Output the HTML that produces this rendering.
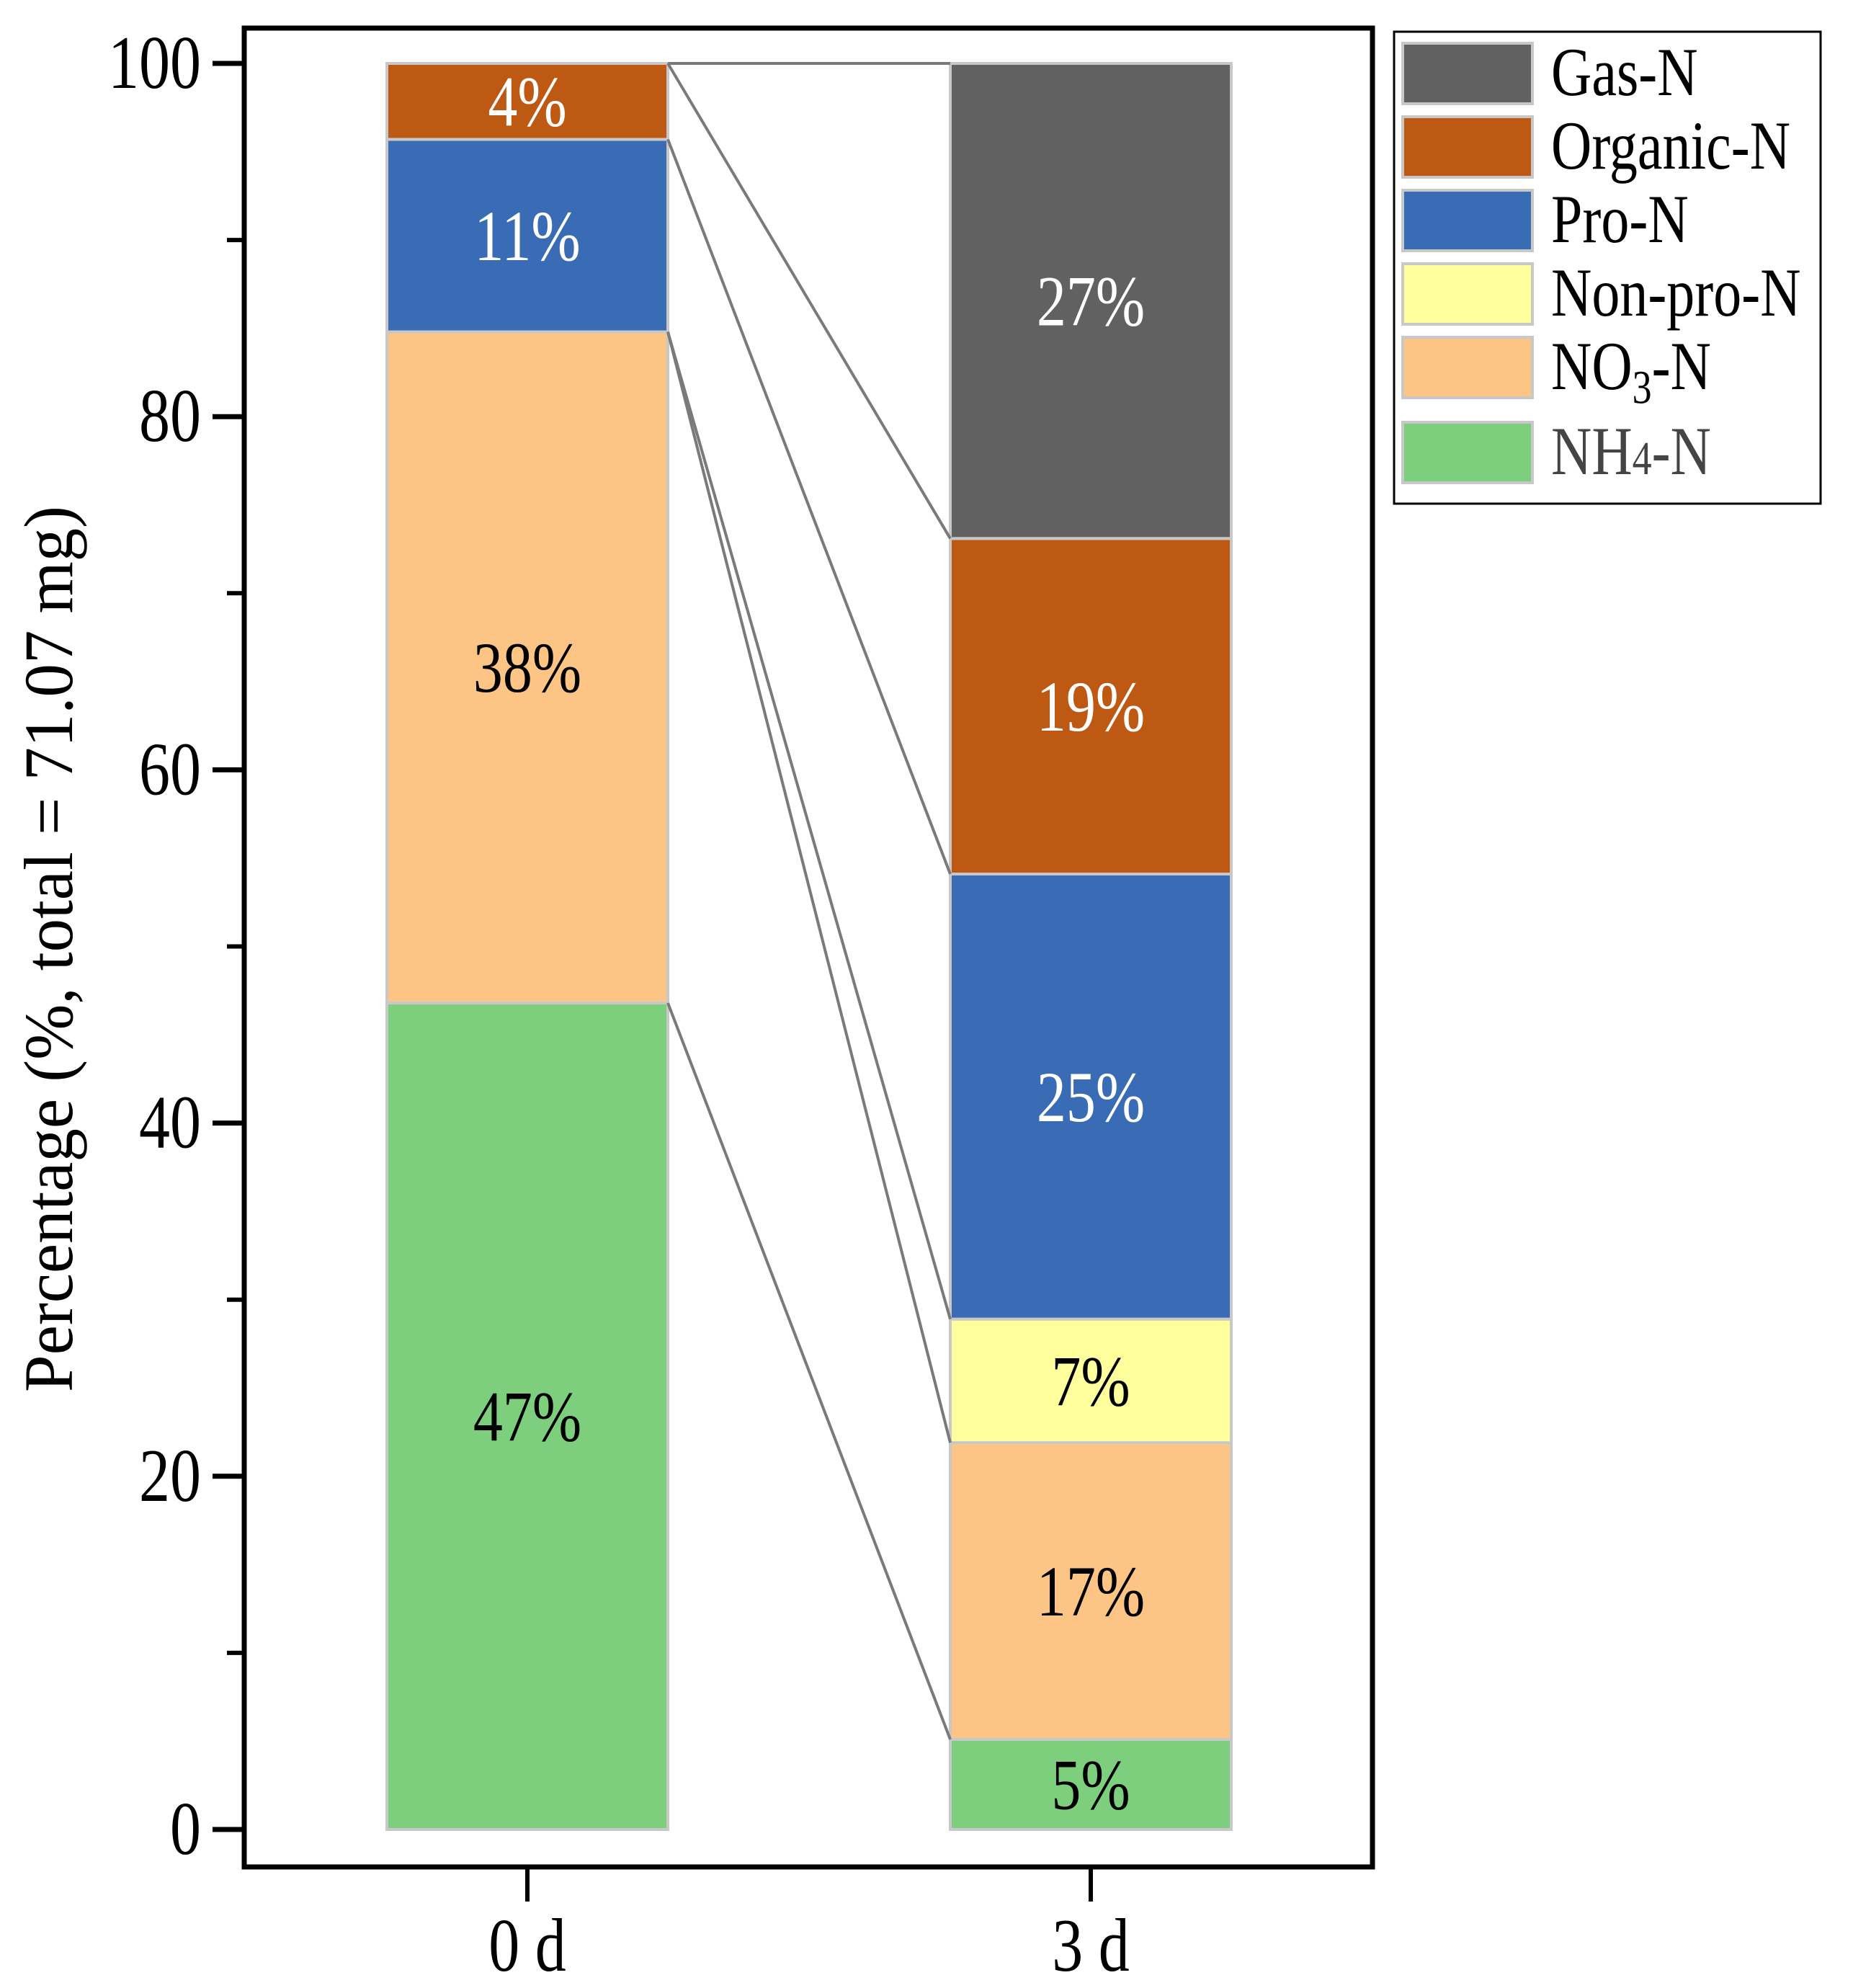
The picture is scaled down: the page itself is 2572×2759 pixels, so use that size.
<!DOCTYPE html>
<html><head><meta charset="utf-8"><style>
html,body{margin:0;padding:0;background:#fff;}
svg{display:block;font-family:"Liberation Serif",serif;}
</style></head><body>
<svg id="chart" width="2572" height="2759" viewBox="0 0 2572 2759" xmlns="http://www.w3.org/2000/svg">
<g id="plot"></g>
</svg>
<script>
const categories = ["0 d", "3 d"];
const seriesNames = ["NH4-N", "NO3-N", "Non-pro-N", "Pro-N", "Organic-N", "Gas-N"];
const seriesColors = ["#7dcf7d", "#fdc585", "#ffff9e", "#3a6bb5", "#bd5913", "#616161"];
const labelColors = ["#000", "#000", "#000", "#fff", "#fff", "#fff"];
const values0d = [46.8, 38.0, 0, 10.9, 4.3, 0];
const values3d = [5.1, 16.8, 7.0, 25.2, 19.0, 26.9];
const labels0d = ["47%", "38%", "", "11%", "4%", ""];
const labels3d = ["5%", "17%", "7%", "25%", "19%", "27%"];
const yTicks = [0, 20, 40, 60, 80, 100];
const yMinorTicks = [10, 30, 50, 70, 90];

const NS = "http://www.w3.org/2000/svg";
const g = document.getElementById("plot");
const frame = {l: 339, t: 39, r: 1905, b: 2591};
const y0 = 2539, y100 = 88;
const yS = v => y0 - (y0 - y100) * v / 100;
const centers = [732, 1514];
const barW = 390;
const xS = i => centers[i];
const SY = 1.22;
function el(tag, attrs, parent) {
  const e = document.createElementNS(NS, tag);
  for (const k in attrs) e.setAttribute(k, attrs[k]);
  (parent || g).appendChild(e);
  return e;
}
function txt(x, y, attrs) {
  const a = Object.assign({x: 0, y: 0, transform: "translate(" + x + "," + y + ") scale(1," + SY + ")"}, attrs);
  return el("text", a);
}
const allVals = [values0d, values3d];
const allLabels = [labels0d, labels3d];

allVals.forEach((vals, i) => {
  let cum = 0;
  vals.forEach((v, s) => {
    if (v <= 0) { return; }
    const top = yS(cum + v), bot = yS(cum);
    const r = el("rect", {x: xS(i) - barW / 2, y: top, width: barW, height: bot - top, fill: seriesColors[s], stroke: "#c8c8c8", "stroke-width": 4});
    
    
    const lab = allLabels[i][s];
    if (lab) {
      const t = txt(xS(i), (top + bot) / 2 + 34, {"text-anchor": "middle", "font-size": 82, fill: labelColors[s]});
      t.textContent = lab;
      
      
    }
    cum += v;
  });
});

let c0 = 0, c3 = 0;
seriesNames.forEach((n, s) => {
  c0 += values0d[s]; c3 += values3d[s];
  const ln = el("line", {x1: xS(0) + barW / 2, y1: yS(c0), x2: xS(1) - barW / 2, y2: yS(c3), stroke: "#7a7a7a", "stroke-width": 4});
  
  
});

const fr = el("rect", {x: frame.l, y: frame.t, width: frame.r - frame.l, height: frame.b - frame.t, fill: "none", stroke: "#000", "stroke-width": 7});



yTicks.forEach(v => {
  const tk = el("line", {x1: frame.l - 44, y1: yS(v), x2: frame.l, y2: yS(v), stroke: "#000", "stroke-width": 7});
  
  
  const t = txt(frame.l - 60, yS(v) + 34, {"text-anchor": "end", "font-size": 86});
  t.textContent = v;
  
  
});
yMinorTicks.forEach(v => {
  const tk = el("line", {x1: frame.l - 24, y1: yS(v), x2: frame.l, y2: yS(v), stroke: "#000", "stroke-width": 6});
  
  
});
categories.forEach((c, i) => {
  const tk = el("line", {x1: xS(i), y1: frame.b, x2: xS(i), y2: frame.b + 48, stroke: "#000", "stroke-width": 6});
  
  
  const t = txt(xS(i), 2735, {"text-anchor": "middle", "font-size": 86});
  t.textContent = c;
  
  
});
const yt = el("text", {x: 0, y: 0, "text-anchor": "middle", "font-size": 80, transform: "translate(100,1317) rotate(-90) scale(1.16,1.2)"});
yt.textContent = "Percentage (%, total = 71.07 mg)";



const lg = el("rect", {x: 1935, y: 44, width: 592, height: 655, fill: "#fff", stroke: "#000", "stroke-width": 3});


const legTops = [60, 162, 264, 366, 468, 586];
const legOrder = [5, 4, 3, 2, 1, 0];
legOrder.forEach((s, k) => {
  const sw = el("rect", {x: 1947, y: legTops[k], width: 180, height: 84, fill: seriesColors[s], stroke: "#c8c8c8", "stroke-width": 4});
  
  
  const t = txt(2153, legTops[k] + 72, {"font-size": 78, fill: s === 0 ? "#444" : "#000"});
  if (s === 1) {
    t.innerHTML = 'NO<tspan dy="16" font-size="54">3</tspan><tspan dy="-16">-N</tspan>';
  } else if (s === 0) {
    t.innerHTML = 'NH<tspan font-size="54">4</tspan>-N';
  } else {
    t.textContent = seriesNames[s];
  }
  
  
});
</script>
</body></html>
